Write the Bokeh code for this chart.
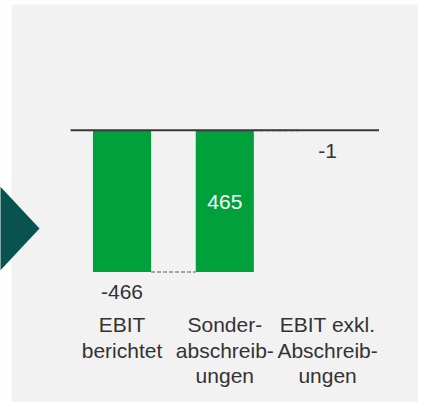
from bokeh.plotting import figure
from bokeh.models import Range1d, ColumnDataSource
from bokeh.embed import file_html
from bokeh.resources import INLINE
from bokeh.core.properties import value

# ---- data ----
categories = ["EBIT\nberichtet", "Sonder-\nabschreib-\nungen", "EBIT exkl.\nAbschreib-\nungen"]
values = [-466, 465, -1]
kinds = ["total", "delta", "total"]
value_labels = ["-466", "465", "-1"]

# ---- layout constants (image pixel geometry) ----
W, H = 418, 402
OFF = 0
X0, S = 121.5, 102.8    # centre of first category, spacing (px)
Y0, K = 129.7, 0.3043   # pixel row of zero, px per unit

def vx(img_x):
    return (img_x - X0) / S

def vy(img_y):
    return (Y0 - img_y) / K

GREEN = "#00a13a"
TEAL = "#08524f"
GREY_BG = "#f2f2f2"
TXT = "#333333"
FONT = value("Liberation Sans")

p = figure(width=W, height=H, output_backend="svg", toolbar_location=None,
           x_range=Range1d(vx(OFF), vx(OFF + W)),
           y_range=Range1d(vy(OFF + H), vy(OFF)),
           min_border=0)
p.axis.visible = False
p.grid.visible = False
p.outline_line_color = None
p.background_fill_color = GREY_BG
p.border_fill_color = "white"

# white strips on the left and top
p.quad(left=vx(-10), right=vx(11), bottom=vy(420), top=vy(-10), fill_color="white", line_color=None)
p.quad(left=vx(-10), right=vx(440), bottom=vy(4), top=vy(-10), fill_color="white", line_color=None)

# decorative arrow on left
p.patch(x=[vx(-30), vx(39), vx(-30)], y=[vy(154), vy(228), vy(302)], fill_color=TEAL, line_color=None)

# waterfall computation
bottoms, tops = [], []
run = 0
for v, k in zip(values, kinds):
    if k == "total":
        b, t = 0, v
        run = v
    else:
        b, t = run, run + v
        run = run + v
    bottoms.append(min(b, t))
    tops.append(max(b, t))

xs = list(range(len(values)))
BW = 0.565
src = ColumnDataSource(dict(x=xs, bottom=bottoms, top=tops))
p.vbar(x="x", bottom="bottom", top="top", width=BW, source=src, fill_color=GREEN, line_color=None)

# connectors
ends = []
run = 0
for v, k in zip(values, kinds):
    run = v if k == "total" else run + v
    ends.append(run)
for i in range(len(values) - 1):
    p.line(x=[xs[i] + BW / 2, xs[i + 1] - BW / 2], y=[ends[i], ends[i]],
           line_color="#8c8c8c", line_width=1.5, line_dash="4 2")

# baseline
p.line(x=[-0.5, len(values) - 0.5], y=[0, 0], line_color="#383838", line_width=2)

# value labels
for i, (v, k, lab) in enumerate(zip(values, kinds, value_labels)):
    if k == "delta":
        p.text(x=[xs[i]], y=[(bottoms[i] + tops[i]) / 2], text=[lab], text_color="white",
               text_font=FONT, text_font_size="21px", text_align="center",
               text_baseline="alphabetic", y_offset=1)
    else:
        p.text(x=[xs[i]], y=[bottoms[i]], text=[lab], text_color=TXT,
               text_font=FONT, text_font_size="21px", text_align="center",
               text_baseline="alphabetic", y_offset=20)

# category labels
LBL_Y = vy(323.7)
LH = 25.8
for i, cat in enumerate(categories):
    for j, line in enumerate(cat.split("\n")):
        p.text(x=[xs[i]], y=[LBL_Y], text=[line], text_color=TXT,
               text_font=FONT, text_font_size="21px", text_align="center",
               text_baseline="alphabetic", y_offset=j * LH)

open("out.html", "w").write(file_html(p, INLINE))
